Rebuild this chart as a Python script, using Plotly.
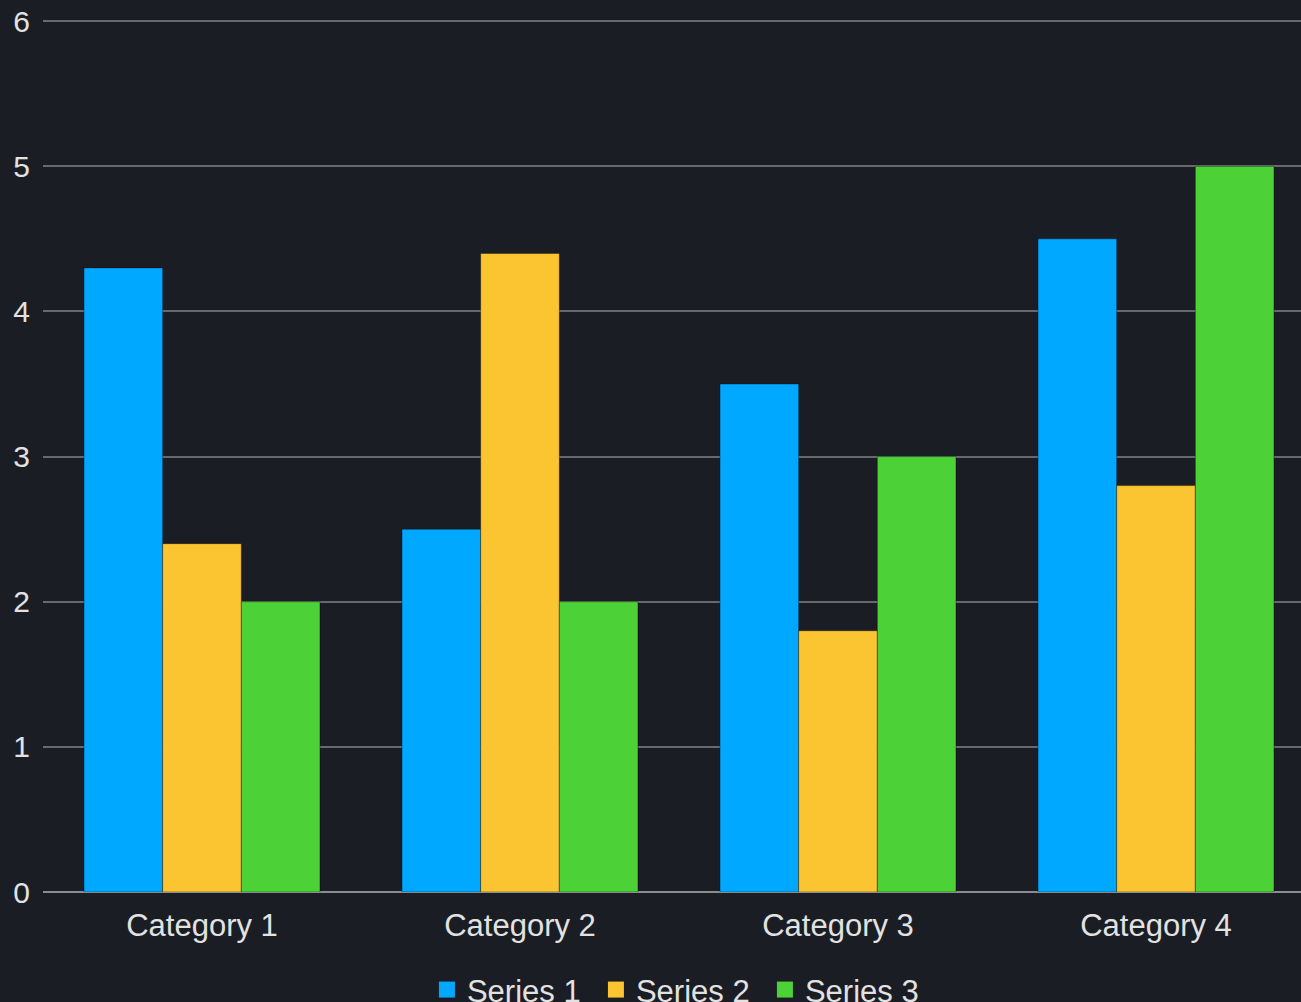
import plotly.graph_objects as go

categories = ["Category 1", "Category 2", "Category 3", "Category 4"]
series_names = ["Series 1", "Series 2", "Series 3"]
series1 = [4.3, 2.5, 3.5, 4.5]
series2 = [2.4, 4.4, 1.8, 2.8]
series3 = [2.0, 2.0, 3.0, 5.0]
colors = ["#00a8ff", "#fbc531", "#4cd137"]
y_ticks = [0, 1, 2, 3, 4, 5, 6]

fig = go.Figure()
for name, vals, col in zip(series_names, [series1, series2, series3], colors):
    fig.add_trace(go.Bar(
        x=categories, y=vals, name=name, showlegend=False, legendgroup=name,
        marker=dict(color=col, line=dict(color="rgba(0,0,0,0.35)", width=1)),
    ))
# legend entries with larger square swatches
for name, col in zip(series_names, colors):
    fig.add_trace(go.Scatter(
        x=[None], y=[None], mode="markers", name=name, legendgroup=name,
        marker=dict(symbol="square", size=16, color=col),
    ))

bg = "#1b1d24"
fig.update_layout(
    width=1301, height=1002,
    paper_bgcolor=bg, plot_bgcolor=bg,
    barmode="group", bargap=0.258, bargroupgap=0,
    margin=dict(l=43, r=0, t=20, b=110),
    font=dict(family="Liberation Sans, Arial, sans-serif", size=31, color="#e2e2e2"),
    showlegend=True,
    legend=dict(orientation="h", x=0.523, xanchor="center", xref="container",
                y=0.039, yref="container", yanchor="top",
                font=dict(size=31, color="#e2e2e2"), entrywidth=124,
                bgcolor="rgba(0,0,0,0)", itemwidth=30, tracegroupgap=0),
)
fig.update_xaxes(
    range=[-0.5, 3.456], showgrid=False, showline=False, ticks="",
    tickfont=dict(size=31, color="#e2e2e2"), zeroline=False, ticklabelstandoff=12,
)
fig.update_yaxes(
    range=[0, 6.008], tickvals=y_ticks, showgrid=True, gridcolor="#66696e", gridwidth=2,
    zeroline=True, zerolinecolor="#8a8c90", zerolinewidth=2, showline=False,
    ticks="", tickfont=dict(size=30, color="#e2e2e2"), ticklabelstandoff=12,
)

fig.write_html("out.html", config={"displayModeBar": False},
               post_script="document.body.style.margin='0';document.body.style.overflow='hidden';")
